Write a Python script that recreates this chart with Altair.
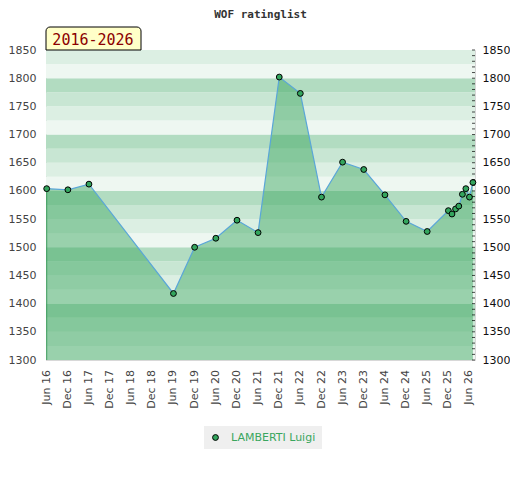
import altair as alt
import pandas as pd

# ---- data ----
dates = [
    "2016-06-01", "2016-12-01", "2017-06-01", "2019-06-01", "2019-12-01",
    "2020-06-01", "2020-12-01", "2021-06-01", "2021-12-01", "2022-06-01",
    "2022-12-01", "2023-06-01", "2023-12-01", "2024-06-01", "2024-12-01",
    "2025-06-01", "2025-12-01", "2026-01-01", "2026-02-01", "2026-03-01",
    "2026-04-01", "2026-05-01", "2026-06-01", "2026-07-01",
]
ratings = [
    1604, 1602, 1612, 1418, 1500,
    1516, 1548, 1526, 1802, 1773,
    1589, 1651, 1638, 1593, 1546,
    1528, 1565, 1559, 1568, 1573,
    1594, 1604, 1589, 1615,
]
player = "LAMBERTI Luigi"
title_text = "WOF ratinglist"
period_label = "2016-2026"

y_ticks = [1300, 1350, 1400, 1450, 1500, 1550, 1600, 1650, 1700, 1750, 1800, 1850]
minor_ticks = list(range(1300, 1851, 10))
band_lows = list(range(1300, 1850, 25))
band_palette = {0: "#eef7f1", 25: "#dcefe3", 50: "#c8e6d3", 75: "#b2dcc1"}
x_tick_dates = [
    "2016-06-01", "2016-12-01", "2017-06-01", "2017-12-01", "2018-06-01",
    "2018-12-01", "2019-06-01", "2019-12-01", "2020-06-01", "2020-12-01",
    "2021-06-01", "2021-12-01", "2022-06-01", "2022-12-01", "2023-06-01",
    "2023-12-01", "2024-06-01", "2024-12-01", "2025-06-01", "2025-12-01",
    "2026-06-01",
]
x_tick_labels = [
    "Jun 16", "Dec 16", "Jun 17", "Dec 17", "Jun 18",
    "Dec 18", "Jun 19", "Dec 19", "Jun 20", "Dec 20",
    "Jun 21", "Dec 21", "Jun 22", "Dec 22", "Jun 23",
    "Dec 23", "Jun 24", "Dec 24", "Jun 25", "Dec 25",
    "Jun 26",
]
x_domain = ["2016-05-26", "2026-07-19"]


def ms(d):
    return int(pd.Timestamp(d, tz="UTC").value // 10**6)


df = pd.DataFrame({"date": [ms(d) for d in dates], "rating": ratings,
                   "player": [player] * len(dates)})
bands = pd.DataFrame({
    "lo": band_lows,
    "hi": [b + 25 for b in band_lows],
    "col": [band_palette[b % 100] for b in band_lows],
})
ticks_df = pd.DataFrame({"v": minor_ticks})
xticks_df = pd.DataFrame({"d": [ms(d) for d in x_tick_dates], "lab": x_tick_labels})

x_scale = alt.Scale(type="utc", domain=[ms(d) for d in x_domain])
y_scale = alt.Scale(domain=[1300, 1850], nice=False, zero=False)

W, H = 429, 310
AREA = "#3aa65e"
PT = "#33a55d"

band_layer = alt.Chart(bands).mark_rect().encode(
    x=alt.value(0), x2=alt.value("width"),
    y=alt.Y("lo:Q", scale=y_scale, axis=None), y2="hi:Q",
    fill=alt.Fill("col:N", scale=None, legend=None),
)

# time-axis labels, placed through the shared x scale
xlabel_layer = alt.Chart(xticks_df).mark_text(
    angle=270, align="right", baseline="middle",
    font="DejaVu Sans", fontSize=11, color="#444444",
).encode(
    x=alt.X("d:T", scale=x_scale, axis=None),
    y=alt.value(H + 10),
    text="lab:N",
)

area_layer = alt.Chart(df).mark_area(color=AREA, opacity=0.47).encode(
    x=alt.X("date:T", scale=x_scale, axis=None),
    y=alt.Y("rating:Q", scale=y_scale, title=None,
            axis=alt.Axis(orient="left", values=y_ticks, format="d", ticks=False, grid=False,
                          domainColor="#cccccc", labelColor="#444444",
                          labelFont="DejaVu Sans", labelFontSize=11,
                          labelPadding=10)),
    y2=alt.datum(1300),
)

edge_layer = alt.Chart(df.iloc[[0]]).mark_rule(color="#3a9a5a", strokeWidth=1).encode(
    x=alt.X("date:T", scale=x_scale, axis=None),
    y=alt.Y("rating:Q", scale=y_scale, axis=None),
    y2=alt.datum(1300),
)

line_layer = alt.Chart(df).mark_line(color="#5aa6d8", strokeWidth=1.2).encode(
    x=alt.X("date:T", scale=x_scale, axis=None),
    y=alt.Y("rating:Q", scale=y_scale, axis=None),
)

point_layer = alt.Chart(df).mark_circle(size=34, stroke="#000000", strokeWidth=1, opacity=1).encode(
    x=alt.X("date:T", scale=x_scale, axis=None),
    y=alt.Y("rating:Q", scale=y_scale, axis=None),
    color=alt.Color("player:N", scale=alt.Scale(range=[PT]), title=None,
                    legend=alt.Legend(orient="none", legendX=158, legendY=376,
                                      fillColor="#efefef", padding=6,
                                      labelColor="#3aa65e", labelFont="DejaVu Sans",
                                      labelFontSize=11, labelOffset=10,
                                      symbolType="circle", symbolSize=34,
                                      symbolStrokeColor="#000000", symbolStrokeWidth=1)),
)

tick_layer = alt.Chart(ticks_df).mark_tick(color="#000000", thickness=1, size=3).encode(
    x=alt.value(W - 1.5),
    y=alt.Y("v:Q", scale=y_scale, title=None,
            axis=alt.Axis(orient="right", values=y_ticks, format="d", ticks=False, grid=False,
                          domain=False, labelColor="#111111",
                          labelFont="DejaVu Sans", labelFontSize=11,
                          labelPadding=7)),
)

box_layer = alt.Chart(pd.DataFrame({"t": [period_label]})).mark_rect(
    fill="#ffffc8", stroke="#000000", strokeWidth=1,
    cornerRadiusTopLeft=4, cornerRadiusTopRight=4,
).encode(x=alt.value(0), x2=alt.value(95), y=alt.value(-23), y2=alt.value(0))

box_text = alt.Chart(pd.DataFrame({"t": [period_label]})).mark_text(
    font="DejaVu Sans Mono", fontSize=15, color="#8b0000", align="center", baseline="alphabetic",
).encode(x=alt.value(47), y=alt.value(-5), text="t:N")

chart = alt.layer(
    band_layer, area_layer, edge_layer, line_layer, point_layer,
    tick_layer, box_layer, box_text, xlabel_layer
).resolve_axis(y="independent").properties(
    width=W, height=H,
    title=alt.Title(title_text, font="DejaVu Sans Mono", fontSize=11, fontWeight="bold",
                    color="#333333", anchor="middle", offset=7),
    padding={"left": 0, "top": 0, "right": 0, "bottom": 0},
).configure_view(stroke="#d8d8d8")

chart.save("out.html", embed_options={"renderer": "svg", "actions": False})
